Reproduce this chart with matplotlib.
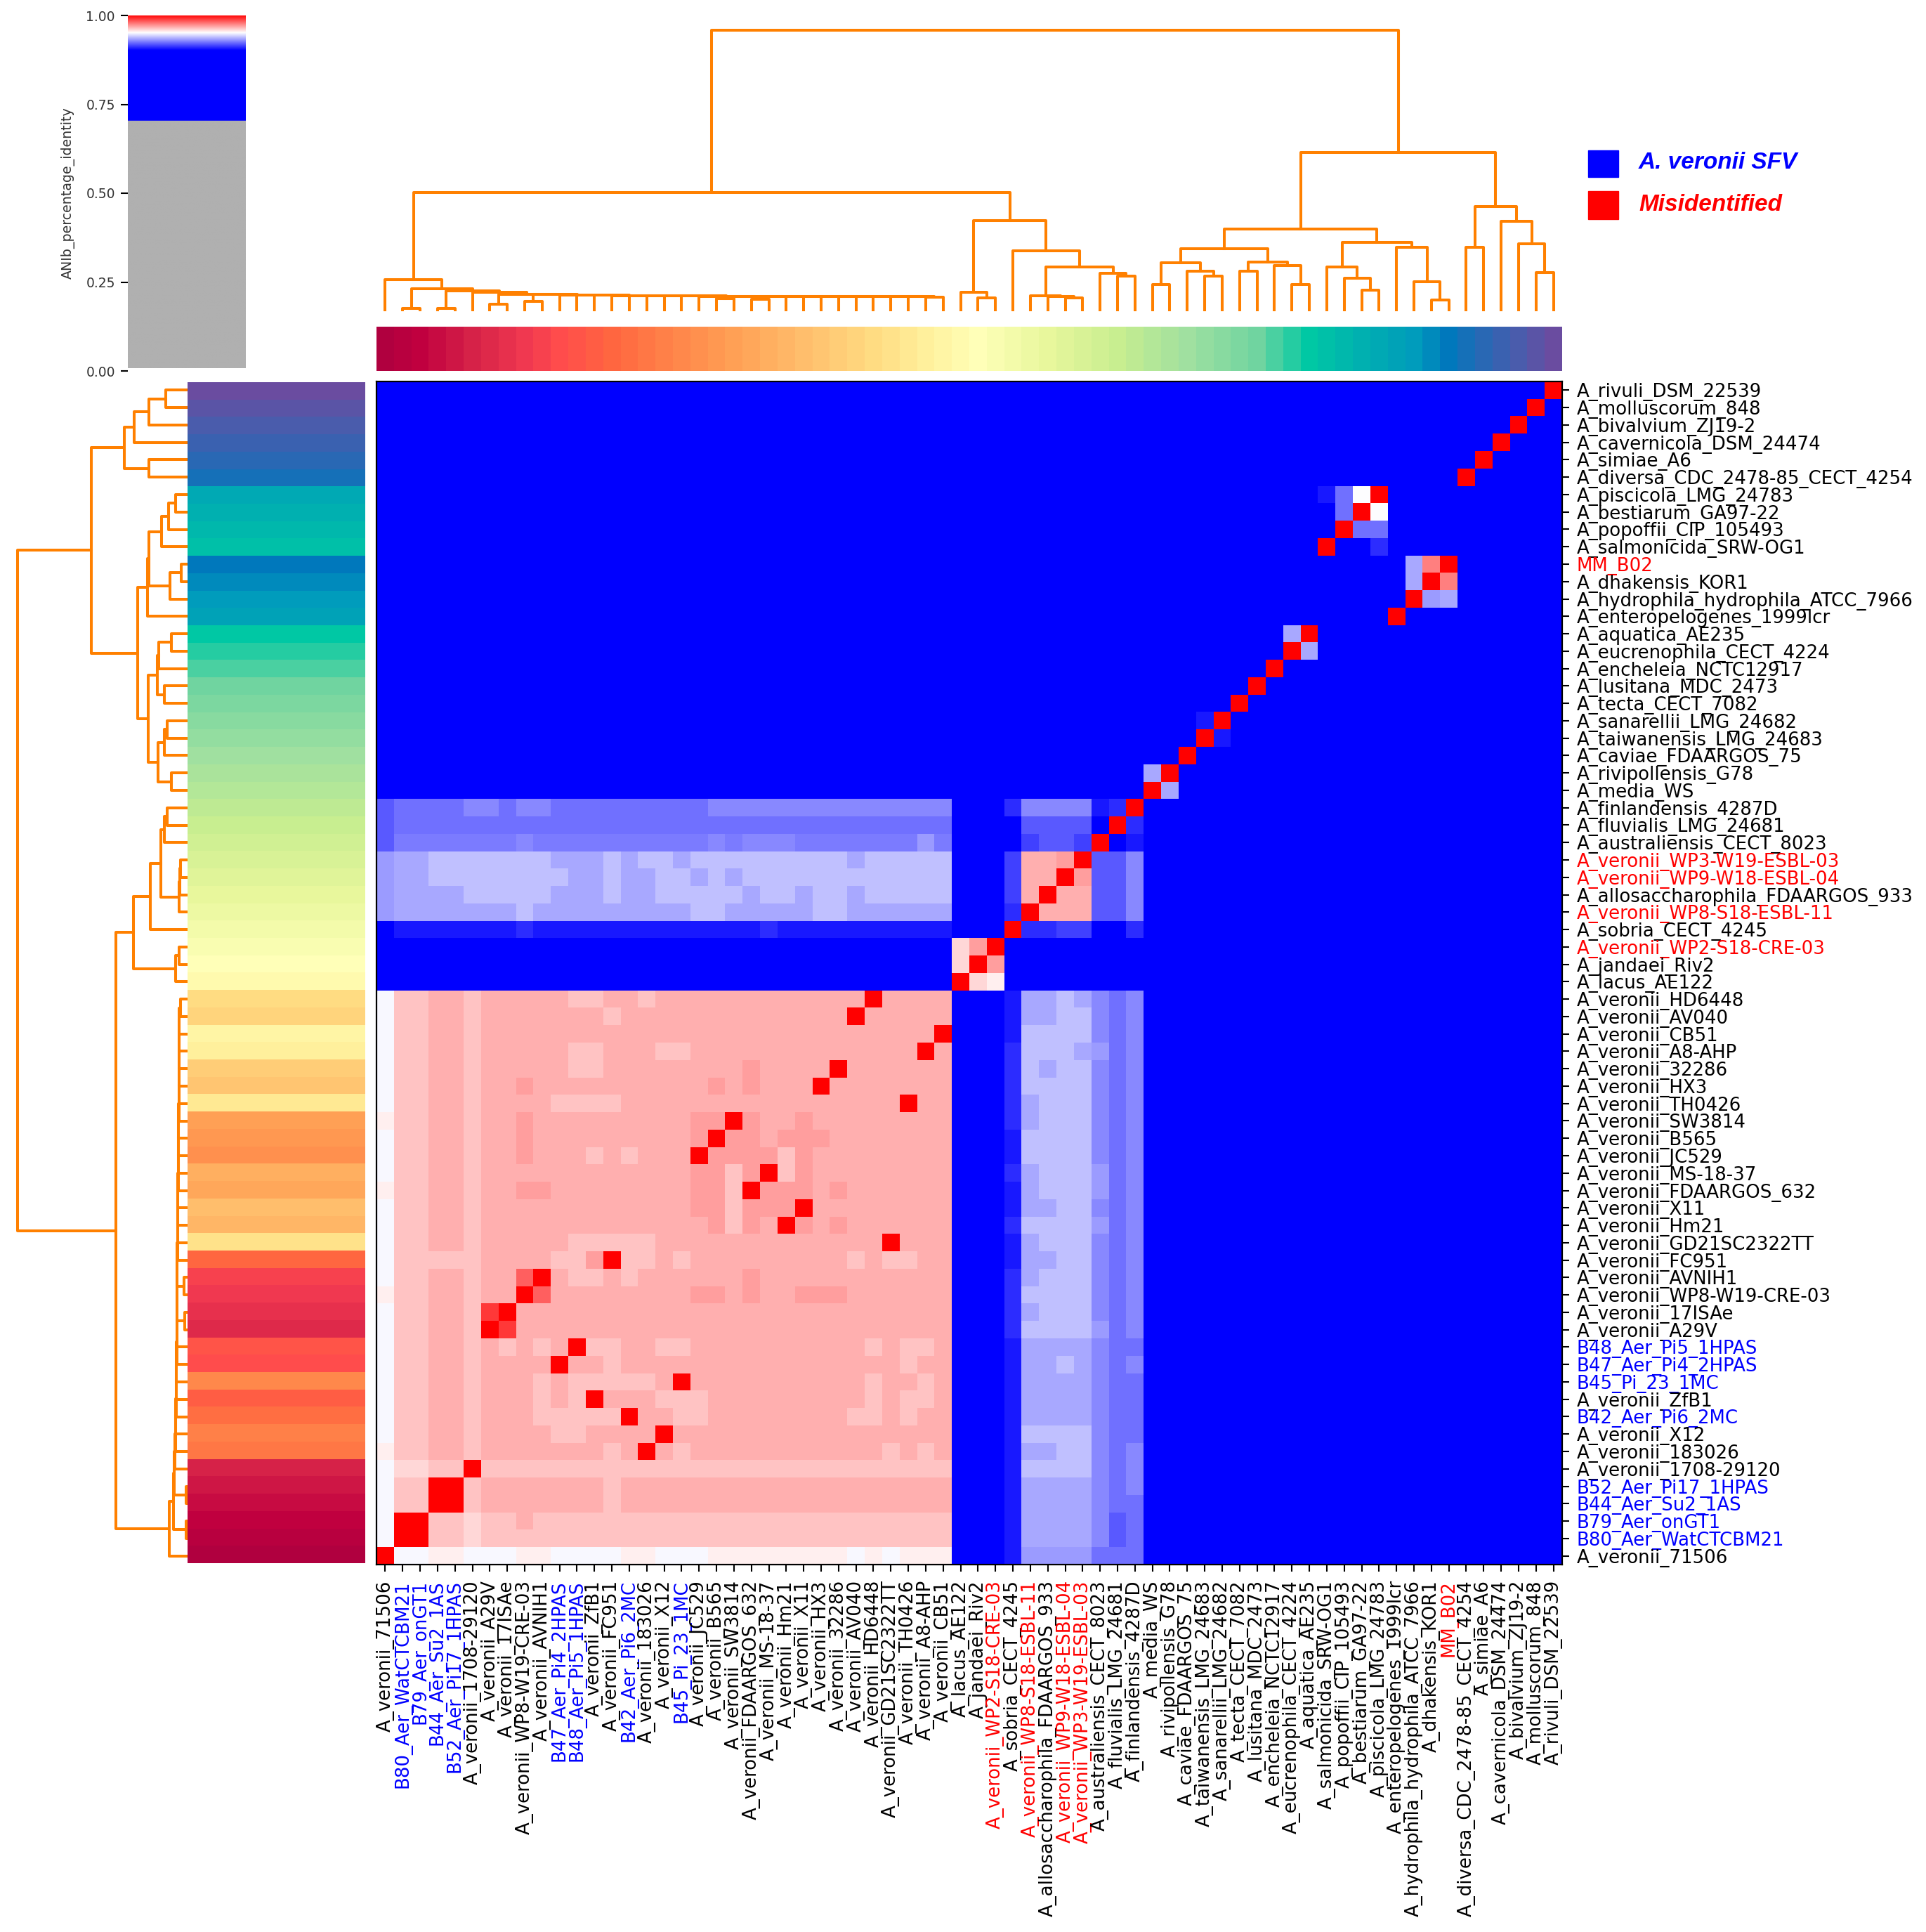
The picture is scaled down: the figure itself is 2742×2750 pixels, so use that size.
"""
ANIb percentage identity clustermap of Aeromonas genomes, with dendrograms,
species colour strips and the identity colour scale.
"""
import numpy as np
import matplotlib
matplotlib.use("Agg")
import matplotlib.pyplot as plt
from matplotlib.colors import LinearSegmentedColormap
from matplotlib.patches import Rectangle

W, H = 2742, 2750
ORANGE = "#ff8000"

# ── Labels ─────────────────────────────────────────────────────────────────────
ROW_LABELS = [
    "A_rivuli_DSM_22539", "A_molluscorum_848", "A_bivalvium_ZJ19-2",
    "A_cavernicola_DSM_24474", "A_simiae_A6", "A_diversa_CDC_2478-85_CECT_4254",
    "A_piscicola_LMG_24783", "A_bestiarum_GA97-22", "A_popoffii_CIP_105493",
    "A_salmonicida_SRW-OG1", "MM_B02", "A_dhakensis_KOR1",
    "A_hydrophila_hydrophila_ATCC_7966", "A_enteropelogenes_1999lcr",
    "A_aquatica_AE235", "A_eucrenophila_CECT_4224", "A_encheleia_NCTC12917",
    "A_lusitana_MDC_2473", "A_tecta_CECT_7082", "A_sanarellii_LMG_24682",
    "A_taiwanensis_LMG_24683", "A_caviae_FDAARGOS_75", "A_rivipollensis_G78",
    "A_media_WS", "A_finlandensis_4287D", "A_fluvialis_LMG_24681",
    "A_australiensis_CECT_8023", "A_veronii_WP3-W19-ESBL-03",
    "A_veronii_WP9-W18-ESBL-04", "A_allosaccharophila_FDAARGOS_933",
    "A_veronii_WP8-S18-ESBL-11", "A_sobria_CECT_4245", "A_veronii_WP2-S18-CRE-03",
    "A_jandaei_Riv2", "A_lacus_AE122", "A_veronii_HD6448", "A_veronii_AV040",
    "A_veronii_CB51", "A_veronii_A8-AHP", "A_veronii_32286", "A_veronii_HX3",
    "A_veronii_TH0426", "A_veronii_SW3814", "A_veronii_B565", "A_veronii_JC529",
    "A_veronii_MS-18-37", "A_veronii_FDAARGOS_632", "A_veronii_X11",
    "A_veronii_Hm21", "A_veronii_GD21SC2322TT", "A_veronii_FC951",
    "A_veronii_AVNIH1", "A_veronii_WP8-W19-CRE-03", "A_veronii_17ISAe",
    "A_veronii_A29V", "B48_Aer_Pi5_1HPAS", "B47_Aer_Pi4_2HPAS", "B45_Pi_23_1MC",
    "A_veronii_ZfB1", "B42_Aer_Pi6_2MC", "A_veronii_X12", "A_veronii_183026",
    "A_veronii_1708-29120", "B52_Aer_Pi17_1HPAS", "B44_Aer_Su2_1AS",
    "B79_Aer_onGT1", "B80_Aer_WatCTCBM21", "A_veronii_71506",
]
COL_LABELS = [
    "A_veronii_71506", "B80_Aer_WatCTCBM21", "B79_Aer_onGT1", "B44_Aer_Su2_1AS",
    "B52_Aer_Pi17_1HPAS", "A_veronii_1708-29120", "A_veronii_A29V",
    "A_veronii_17ISAe", "A_veronii_WP8-W19-CRE-03", "A_veronii_AVNIH1",
    "B47_Aer_Pi4_2HPAS", "B48_Aer_Pi5_1HPAS", "A_veronii_ZfB1", "A_veronii_FC951",
    "B42_Aer_Pi6_2MC", "A_veronii_183026", "A_veronii_X12", "B45_Pi_23_1MC",
    "A_veronii_JC529", "A_veronii_B565", "A_veronii_SW3814",
    "A_veronii_FDAARGOS_632", "A_veronii_MS-18-37", "A_veronii_Hm21",
    "A_veronii_X11", "A_veronii_HX3", "A_veronii_32286", "A_veronii_AV040",
    "A_veronii_HD6448", "A_veronii_GD21SC2322TT", "A_veronii_TH0426",
    "A_veronii_A8-AHP", "A_veronii_CB51", "A_lacus_AE122", "A_jandaei_Riv2",
    "A_veronii_WP2-S18-CRE-03", "A_sobria_CECT_4245", "A_veronii_WP8-S18-ESBL-11",
    "A_allosaccharophila_FDAARGOS_933", "A_veronii_WP9-W18-ESBL-04",
    "A_veronii_WP3-W19-ESBL-03", "A_australiensis_CECT_8023",
    "A_fluvialis_LMG_24681", "A_finlandensis_4287D", "A_media_WS",
    "A_rivipollensis_G78", "A_caviae_FDAARGOS_75", "A_taiwanensis_LMG_24683",
    "A_sanarellii_LMG_24682", "A_tecta_CECT_7082", "A_lusitana_MDC_2473",
    "A_encheleia_NCTC12917", "A_eucrenophila_CECT_4224", "A_aquatica_AE235",
    "A_salmonicida_SRW-OG1", "A_popoffii_CIP_105493", "A_bestiarum_GA97-22",
    "A_piscicola_LMG_24783", "A_enteropelogenes_1999lcr",
    "A_hydrophila_hydrophila_ATCC_7966", "A_dhakensis_KOR1", "MM_B02",
    "A_diversa_CDC_2478-85_CECT_4254", "A_simiae_A6", "A_cavernicola_DSM_24474",
    "A_bivalvium_ZJ19-2", "A_molluscorum_848", "A_rivuli_DSM_22539",
]
SFV_LABELS = [
    "B48_Aer_Pi5_1HPAS", "B47_Aer_Pi4_2HPAS", "B45_Pi_23_1MC", "B42_Aer_Pi6_2MC",
    "B52_Aer_Pi17_1HPAS", "B44_Aer_Su2_1AS", "B79_Aer_onGT1", "B80_Aer_WatCTCBM21",
]
MISID_LABELS = [
    "MM_B02", "A_veronii_WP3-W19-ESBL-03", "A_veronii_WP9-W18-ESBL-04",
    "A_veronii_WP8-S18-ESBL-11", "A_veronii_WP2-S18-CRE-03",
]

# ── Identity values, one run-length string per row (missing cells at the end = B) ──
LEVELS = {
    "B": 0.9000, "1": 0.9047, "2": 0.9086, "c": 0.9125, "3": 0.9173, "4": 0.9220,
    "a": 0.9243, "5": 0.9267, "b": 0.9302, "6": 0.9330, "7": 0.9376, "w": 0.9486,
    "W": 0.9497, "f": 0.9530, "m": 0.9576, "l": 0.9616, "p": 0.9655, "d": 0.9688,
    "x": 0.9749, "r": 0.9812, "s": 0.9890, "R": 1.0000,
}
ANI_ROWS = [
    "B*67 R", "B*66 R", "B*65 R", "B*64 R", "B*63 R", "B*62 R",
    "B*54 1 4 W R", "B*55 4 R W", "B*55 R 4*2", "B*54 R B*2 2",
    "B*59 6 x R", "B*59 6 R x", "B*59 R b 6", "B*58 R",
    "B*52 6 R", "B*52 R 6", "B*51 R", "B*50 R", "B*49 R",
    "B*47 1 R", "B*47 R 1", "B*46 R", "B*44 6 R", "B*44 R 6",
    "3 4*4 5*2 4 5*2 4*9 5*14 B*3 2 5*4 1 2 R",
    "3 4*32 B*4 3*4 B R 2",
    "3 a*7 5 a*10 5 a 5*3 a*7 b a B*4 c 3*2 c R B 1",
    "b 6*2 7*7 6*3 7 6 7*2 6 7*9 6 7*5 B*3 c p*2 d R 3*2 5",
    "b 6*2 7*8 6*2 7 6*2 7*2 6 7 6 7*12 B*3 c p*2 R d 3*2 5",
    "b 6*4 7*5 6*3 7 6*2 7*5 6 7*2 6 7*2 6 7*5 B*3 c p R p*2 3*2 5",
    "b 6*7 7 6*9 7*2 6*5 7*2 6*6 B*3 2 R p*3 3*2 5",
    "B 1*7 2 1*13 2 1*10 B*3 R 2*2 c*2 B*2 2",
    "B*33 m d R", "B*33 m R d", "B*33 R m f",
    "w l*2 p*2 l p*5 l*2 p*2 l p*12 R p*4 B*3 1 6*2 7 6 5 4 5",
    "w l*2 p*2 l p*7 l p*13 R p*5 B*3 1 6*2 7*2 5 4 5",
    "w l*2 p*2 l p*26 R B*3 1 7*4 5 4 5",
    "w l*2 p*2 l p*5 l*2 p*3 l*2 p*13 R p B*3 2 7*3 6 b 4 5",
    "w l*2 p*2 l p*5 l*2 p*8 d p*4 R p*6 B*3 2 7 6 7*2 5 4 5",
    "w l*2 p*2 l p*2 d p*10 d p d p*3 R p*7 B*3 2 7*4 5 4 5",
    "w l*2 p*2 l p*4 l*4 p*16 R p*2 B*3 2 6 7*3 5 4 5",
    "f l*2 p*2 l p*2 d p*9 d*2 R d p*2 d p*8 B*3 2 6 7*3 5 4 5",
    "w l*2 p*2 l p*2 d p*9 d R d*2 p d*3 p*7 B*3 1 7*4 5 4 5",
    "w l*2 p*2 l p*2 d p*3 l p l p*3 R d*4 l d p*8 B*3 1 7*4 5 4 5",
    "w l*2 p*2 l p*12 d*2 l d R l d p*8 B*3 2 6 7*3 b 4 5",
    "f l*2 p*2 l p*2 d*2 p*8 d*2 l R d*3 p d p*6 B*3 1 6 7*3 b 4 5",
    "w l*2 p*2 l p*12 d*2 l d*3 R p*8 B*3 1 6*2 7*2 5 4 5",
    "w l*2 p*2 l p*13 d l d p R d p d p*6 B*3 2 7*4 b 4 5",
    "w l*2 p*2 l p*5 l*5 p*13 R p*3 B*3 1 6 7*3 5 4 5",
    "w l*5 p*4 l*2 d R l*2 p l p*9 l p l*2 p*2 B*3 1 6*2 7*2 5 4 5",
    "w l*2 p*2 l p*2 r R p l*2 p l p*6 d p*11 B*3 2 6 7*3 5 4 5",
    "f l*2 p*2 l p*2 R r p*8 d*2 p d p*2 d*3 p*6 B*3 2 7*4 5 4 5",
    "w l*2 p*2 l s R p*25 B*3 2 6 7*3 5 4 5",
    "w l*2 p*2 l R s p*25 B*3 2 7*4 b 4 5",
    "w l*2 p*2 l p l p l p R l*2 p*2 l*2 p*10 l p l*2 p B*3 1 6*4 5 4 4",
    "w l*2 p*2 l p*4 R p*2 l p*16 l p*2 B*3 1 6*2 7 6 5 4 5",
    "w l*2 p*2 l p*3 l p l*5 p R p*10 l p*2 l p B*3 1 6*4 5 4 4",
    "w l*2 p*2 l p*3 l p l R p*3 l*3 p*9 l p l*2 p B*3 1 6*4 5 4 4",
    "w l*2 p*2 l p*3 l*5 R p*2 l*2 p*8 l*2 p l p*2 B*3 1 6*4 5 4 4",
    "w l*2 p*2 l p*4 l*2 p*4 R p*16 B*3 1 7*4 5 4 4",
    "f l*2 p*2 l p*7 l p R p l p*11 l p l p B*3 1 6*2 7*2 5 4 5",
    "w m*2 l*2 R l*27 B*3 1 7*4 5 4 5",
    "w l*2 R*2 l p*7 l p*19 B*3 1 6*4 5 4 5",
    "w l*2 R*2 l p*7 l p*19 B*3 1 6*4 5 4 4",
    "w R*2 l*2 m l*2 p l*24 B*3 1 6*4 5 3 4",
    "w R*2 l*2 m l*27 B*3 1 6*4 5 3 4",
    "R w*2 f*2 w*3 f*2 w*4 f*2 w*3 f*8 w f w f*3 B*3 1 b*4 4 4 4",
]

# ── Dendrograms: (height, child, child), a leaf is a row/column index ──────────
TOP_COMB_ITEMS = [(2, 1, 2), (2, 3, 4), 5, (8, 6, 7), (12.5, 8, 9), 10, 11, 12, 13,
                  14, 15, 16, 17, 18, (16, 19, 20), (15, 21, 22), 23, 24, 25, 26, 27,
                  28, 29, 30, (18.5, 31, 32)]
TOP_COMB_HEIGHTS = [30, 27.5, 25, 22.5, 22, 21.5, 21, 21, 20.5, 20.5, 20, 20, 20, 19.5,
                    19.5, 19.5, 19.5, 19, 19, 19, 19, 19, 19, 18.9]
ROW_COMB_ITEMS = [(2, 65, 66), (2, 63, 64), 62, 61, 60, 59, 58, 57, 56, 55, (4.5, 53, 54),
                  (5, 51, 52), 50, 49, 48, 47, 46, 45, 44, 43, 42, 41, 40, 39, 38, 37,
                  (10, 35, 36)]
ROW_COMB_HEIGHTS = [20.5, 19, 18, 17.5, 17, 16.5, 16, 16, 15.5, 15.5, 15, 15, 14.5, 14.5,
                    14, 14, 13.5, 13.5, 13, 13, 12.5, 12.5, 12, 12, 12, 12]


def comb(items, heights):
    tree = items[-1]
    for item, height in zip(items[-2::-1], heights[::-1]):
        tree = (height, item, tree)
    return tree


TOP_TREE = (398,
    (167,
        (43, 0, comb(TOP_COMB_ITEMS, TOP_COMB_HEIGHTS)),
        (127,
            (25, 33, (17, 34, 35)),
            (84, 36, (61,
                (20, 37, (19.5, 38, (17, 39, 40))),
                (52, 41, (48, 42, 43)))))),
    (224,
        (115,
            (87.5,
                (67.5, (36, 44, 45), (55, 46, (48, 47, 48))),
                (68, (55, 49, 50), (63, 51, (36, 52, 53)))),
            (96,
                (61, 54, (45, 55, (28, 56, 57))),
                (89, 58, (40, 59, (14, 60, 61))))),
        (147.5, (89, 62, 63), (126, 64, (94, 65, (53, 66, 67))))))

ROW_TREE = (242,
    (137,
        (89.6, (76.5, (55, (31, 0, 1), 2), 3), (55, 4, 5)),
        (71,
            (57.5, (55, (37, (27.5, (17, 6, 7), 8), 9), (25, (9, 10, 11), 12)), 13),
            (56,
                (43, (40.7, (23, 14, 15), 16), (33, 17, 18)),
                (42, (33, (29, 19, 20), 21), (23, 22, 23))))),
    (102,
        (77.5,
            (52.7, (38, (33, (29, 24, 25), 26), (12, (11, (10, 27, 28), 29), 30)), 31),
            (17, (12, 32, 33), 34)),
        (26, comb(ROW_COMB_ITEMS, ROW_COMB_HEIGHTS), 67)))

# ── Colours ────────────────────────────────────────────────────────────────────
ani_cmap = LinearSegmentedColormap.from_list("ani", [
    (0.0, "#b0b0b0"), (0.7, "#b0b0b0"), (0.7, "#0000ff"), (0.9, "#0000ff"),
    (0.95, "#ffffff"), (1.0, "#ff0000"),
], N=4096)
STRIP_STOPS = [
    (0, "#b0003f"), (2, "#c0003f"), (5, "#d62248"), (8, "#f03850"), (10, "#ff4c4c"),
    (13, "#ff6640"), (16, "#ff8048"), (20, "#ffa055"), (24, "#ffbe6c"), (28, "#ffdc82"),
    (31, "#fff09c"), (34, "#ffffb8"), (38, "#e8f79c"), (42, "#c8ee90"), (46, "#a0e0a0"),
    (50, "#70d4a0"), (53, "#00c8a4"), (56, "#00b0b0"), (59, "#009cbc"), (61, "#0078bc"),
    (63, "#2a68b4"), (65, "#4a5cac"), (67, "#6a4ca0"),
]
strip_cmap = LinearSegmentedColormap.from_list(
    "strip", [(pos / 67, col) for pos, col in STRIP_STOPS], N=68)


def parse_row(text):
    row = []
    for token in text.split():
        char, _, count = token.partition("*")
        row += [LEVELS[char]] * int(count or 1)
    return row + [LEVELS["B"]] * (68 - len(row))


ani = np.array([parse_row(r) for r in ANI_ROWS])
n_rows, n_cols = ani.shape


def draw_tree(ax, node, horizontal):
    """Draw one U per merge and return (centre position, height) of the node."""
    if not isinstance(node, tuple):
        return node + 0.5, 0.0
    height, a, b = node
    pos_a, h_a = draw_tree(ax, a, horizontal)
    pos_b, h_b = draw_tree(ax, b, horizontal)
    along = [pos_a, pos_a, pos_b, pos_b]
    up = [h_a, height, height, h_b]
    if horizontal:
        ax.plot(along, up, color=ORANGE, lw=2.9, clip_on=False)
    else:
        ax.plot(up, along, color=ORANGE, lw=2.9, clip_on=False)
    return (pos_a + pos_b) / 2, height


def label_color(name):
    if name in SFV_LABELS:
        return "#0000ff"
    if name in MISID_LABELS:
        return "#ff0000"
    return "black"


fig = plt.figure(figsize=(W / 100, H / 100), dpi=100)


def place(x0, y0, x1, y1):
    return fig.add_axes([x0 / W, 1 - y1 / H, (x1 - x0) / W, (y1 - y0) / H])


# ── Identity scale ─────────────────────────────────────────────────────────────
ax_bar = place(182, 22, 350, 528)
ax_bar.imshow(np.linspace(1, 0, 1024)[:, None], cmap=ani_cmap, vmin=0, vmax=1,
              extent=(0, 1, 0.007, 1), aspect="auto")
ax_bar.set_ylim(0, 1)
ax_bar.set_xticks([])
ax_bar.set_yticks([0, 0.25, 0.5, 0.75, 1])
ax_bar.set_yticklabels(["0.00", "0.25", "0.50", "0.75", "1.00"])
ax_bar.tick_params(axis="y", labelsize=13.5, length=7, width=1.5, pad=6, labelcolor="#333333")
ax_bar.set_ylabel("ANIb_percentage_identity", fontsize=13.7, color="#333333", labelpad=11)
for spine in ax_bar.spines.values():
    spine.set_visible(False)

# ── Dendrograms ────────────────────────────────────────────────────────────────
ax_top = place(536, 30, 2224, 441)
draw_tree(ax_top, TOP_TREE, True)
ax_top.set_xlim(0, n_cols)
ax_top.set_ylim(0, 411)
ax_top.axis("off")

ax_left = place(10, 543, 267, 2227)
draw_tree(ax_left, ROW_TREE, False)
ax_left.set_xlim(257, 0)
ax_left.set_ylim(n_rows, 0)
ax_left.axis("off")

# ── Colour strips ──────────────────────────────────────────────────────────────
col_index = {name: i for i, name in enumerate(COL_LABELS)}
ax_cols = place(536, 465, 2224, 528)
ax_cols.imshow(np.arange(n_cols)[None, :], cmap=strip_cmap, vmin=0, vmax=67,
               aspect="auto", interpolation="nearest")
ax_cols.axis("off")

ax_rows = place(267, 544, 520, 2225)
ax_rows.imshow(np.array([col_index[name] for name in ROW_LABELS])[:, None], cmap=strip_cmap,
               vmin=0, vmax=67, aspect="auto", interpolation="nearest")
ax_rows.axis("off")

# ── Heatmap ────────────────────────────────────────────────────────────────────
ax = place(536, 543, 2224, 2227)
ax.imshow(ani, cmap=ani_cmap, vmin=0, vmax=1, aspect="auto", interpolation="nearest")
ax.set_xticks(range(n_cols))
ax.set_xticklabels(COL_LABELS, rotation=90, fontsize=18.7)
ax.yaxis.tick_right()
ax.set_yticks(range(n_rows))
ax.set_yticklabels(ROW_LABELS, fontsize=18.7)
ax.tick_params(axis="x", length=7, width=1.5, pad=9)
ax.tick_params(axis="y", length=7, width=1.5, pad=8)
for tick, name in zip(ax.get_xticklabels(), COL_LABELS):
    tick.set_color(label_color(name))
for tick, name in zip(ax.get_yticklabels(), ROW_LABELS):
    tick.set_color(label_color(name))
for spine in ax.spines.values():
    spine.set_linewidth(1.6)

# ── Legend ─────────────────────────────────────────────────────────────────────
for y0, y1, colour, text, y_text in [(214, 252, "#0000ff", "A. veronii SFV", 232),
                                     (272, 312, "#ff0000", "Misidentified", 292)]:
    fig.patches.append(Rectangle((2261 / W, 1 - y1 / H), 43 / W, (y1 - y0) / H,
                                 transform=fig.transFigure, color=colour))
    fig.text(2333 / W, 1 - y_text / H, text, color=colour, fontsize=24, va="center",
             family="Liberation Sans", style="italic", weight="bold")

fig.savefig("out.png", dpi=100)
